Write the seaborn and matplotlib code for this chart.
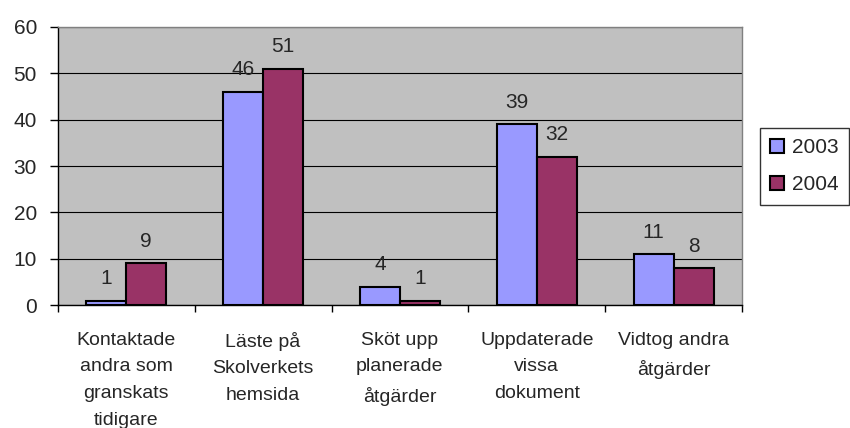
"""
Grouped bar chart: actions taken, 2003 vs 2004
"""
import matplotlib
matplotlib.use('Agg')
import matplotlib.pyplot as plt
import seaborn as sns
import pandas as pd

categories = [
    'Kontaktade\nandra som\ngranskats\ntidigare',
    'Läste på\nSkolverkets\nhemsida',
    'Sköt upp\nplanerade\nåtgärder',
    'Uppdaterade\nvissa\ndokument',
    'Vidtog andra\nåtgärder',
]
years = ['2003', '2004']
values_2003 = [1, 46, 4, 39, 11]
values_2004 = [9, 51, 1, 32, 8]
y_ticks = [0, 10, 20, 30, 40, 50, 60]

df = pd.DataFrame({
    'kategori': categories * 2,
    'år': [years[0]] * len(categories) + [years[1]] * len(categories),
    'antal': values_2003 + values_2004,
})

sns.set_style('white')
plt.rcParams['font.family'] = ['Liberation Sans', 'DejaVu Sans']

fig = plt.figure(figsize=(8.5, 4.28), dpi=100)
ax = fig.add_axes([0.068, 0.287, 0.805, 0.65])
ax.set_facecolor('#C0C0C0')

sns.barplot(
    data=df, x='kategori', y='antal', hue='år',
    palette=['#9999FF', '#993366'], width=0.585,
    edgecolor='black', linewidth=1.5, saturation=1, ax=ax,
)

for container in ax.containers:
    ax.bar_label(container, fmt='%d', padding=9, fontsize=15)

ax.set_ylim(0, 60)
ax.set_xlim(-0.5, len(categories) - 0.5)
ax.set_yticks(y_ticks)
ax.yaxis.grid(True, color='black', linewidth=0.8)
ax.set_axisbelow(True)

# category boundary ticks like Excel
ax.set_xticks([i + 0.5 for i in range(-1, len(categories))], minor=True)
ax.tick_params(axis='x', which='minor', length=5, width=1, color='black',
               direction='out', bottom=True)
ax.tick_params(axis='x', which='major', length=0, pad=19, labelsize=14)
ax.tick_params(axis='y', length=6, width=1, color='black', direction='out',
               left=True, labelsize=15, pad=9)
for lbl in ax.get_xticklabels():
    lbl.set_linespacing(1.75)
    lbl.set_va('top')

for side in ['top', 'right']:
    ax.spines[side].set_color('#808080')
    ax.spines[side].set_linewidth(1)
for side in ['left', 'bottom']:
    ax.spines[side].set_color('black')
    ax.spines[side].set_linewidth(1)

ax.set_xlabel('')
ax.set_ylabel('')

leg = ax.legend(
    loc='upper left', bbox_to_anchor=(760 / 850, 1 - 128 / 428),
    bbox_transform=fig.transFigure, frameon=True, fancybox=False,
    edgecolor='black', fontsize=15, handlelength=0.65, handleheight=0.65,
    handletextpad=0.4, borderpad=0.5, labelspacing=0.85, borderaxespad=0,
)
leg.get_frame().set_linewidth(1)

plt.savefig('out.png', dpi=100)
plt.close()
